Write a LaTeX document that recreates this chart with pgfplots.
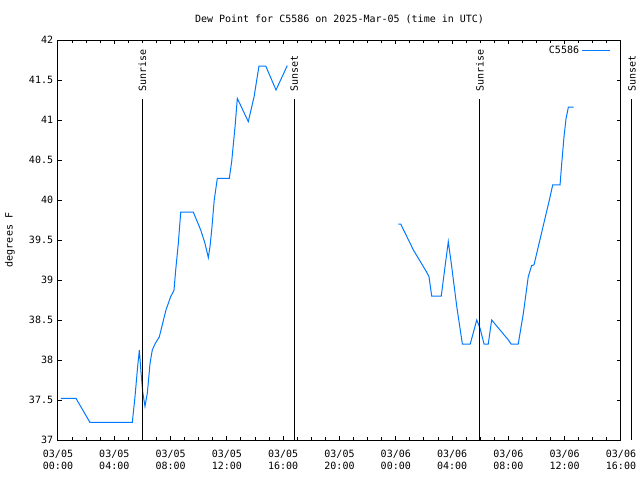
\documentclass[border=0pt]{standalone}
\usepackage{fontspec}
\setmainfont{DejaVu Sans Mono}
\usepackage{pgfplots}
\pgfplotsset{compat=1.18}
\definecolor{dpblue}{RGB}{0,120,255}
\begin{document}
\fontsize{7.5}{10.5}\selectfont
\begin{tikzpicture}
\begin{axis}[
  at={(0,0)}, anchor=south west,
  scale only axis, width=422.25pt, height=300pt,
  xmin=0, xmax=40, ymin=37, ymax=42,
  clip=false,
  axis line style={line width=0.75pt},
  every tick/.style={black, line width=0.75pt},
  major tick length=3pt, minor tick length=2pt,
  tick align=inside,
  xtick={0,4,...,40}, minor x tick num=3,
  xticklabels={{03/05\\00:00},{03/05\\04:00},{03/05\\08:00},{03/05\\12:00},{03/05\\16:00},{03/05\\20:00},{03/06\\00:00},{03/06\\04:00},{03/06\\08:00},{03/06\\12:00},{03/06\\16:00}},
  xticklabel style={align=center, font=\fontsize{7.5}{9.5}\selectfont, yshift=-4.5pt},
  ytick={37,37.5,...,42},
  yticklabel style={font=\fontsize{7.5}{10.5}\selectfont, xshift=-1pt},
  /pgf/number format/assume math mode=true,
  title={Dew Point for C5586 on 2025-Mar-05 (time in UTC)},
  title style={at={(0.5,1)}, anchor=base, yshift=7pt, font=\fontsize{7.5}{10.5}\selectfont},
  ylabel={degrees F},
  ylabel style={at={(axis description cs:-0.0853,0.5)}, anchor=center, font=\fontsize{7.5}{10.5}\selectfont},
  unbounded coords=jump,
  legend plot pos=right,
  legend style={at={(1,1)}, anchor=north east, draw=none, fill=none, font=\fontsize{7.5}{10.5}\selectfont, xshift=-4.5pt, yshift=-0.5pt},
  legend image code/.code={\draw[#1] (0pt,0pt) -- (21pt,0pt);},
]
\addplot[dpblue, line width=0.75pt] coordinates {
(0.21,37.52) (1.28,37.52) (2.27,37.22) (5.28,37.22) (5.47,37.54) (5.66,37.92) (5.78,38.125) (5.90,37.84) (6.02,37.6) (6.18,37.42) (6.35,37.59) (6.54,37.96) (6.70,38.125) (6.89,38.2) (7.20,38.29) (7.41,38.44) (7.67,38.625) (8.0,38.79) (8.24,38.87) (8.36,39.12) (8.55,39.46) (8.72,39.85) (9.61,39.85) (10.14,39.625) (10.44,39.46) (10.68,39.28) (10.80,39.42) (10.92,39.625) (11.1,40.0) (11.32,40.27) (12.17,40.27) (12.34,40.48) (12.58,40.92) (12.74,41.27) (13.52,40.98) (13.93,41.29) (14.28,41.675) (14.76,41.675) (15.49,41.375) (16.29,41.68)
(20,nan)
(24.18,39.7) (24.35,39.7) (25.25,39.375) (26.19,39.10) (26.36,39.04) (26.55,38.80) (27.23,38.80) (27.50,39.17) (27.73,39.48) (27.97,39.17) (28.33,38.67) (28.73,38.2) (29.29,38.2) (29.75,38.5) (29.98,38.4) (30.27,38.2) (30.57,38.2) (30.81,38.5) (32.0,38.25) (32.19,38.2) (32.70,38.2) (33.06,38.58) (33.41,39.04) (33.65,39.18) (33.82,39.19) (34.91,40.0) (35.15,40.19) (35.67,40.19) (35.79,40.46) (35.95,40.79) (36.09,41.01) (36.26,41.16) (36.64,41.16)
};
\addlegendentry{C5586}
\addplot[black, line width=0.75pt, forget plot] coordinates {(5.99,37) (5.99,41.2625)};
\addplot[black, line width=0.75pt, forget plot] coordinates {(16.79,37) (16.79,41.2625)};
\addplot[black, line width=0.75pt, forget plot] coordinates {(29.98,37) (29.98,41.2625)};
\addplot[black, line width=0.75pt, forget plot] coordinates {(40.78,37) (40.78,41.2625)};
\node[rotate=90, anchor=west, inner sep=0pt] at (axis cs:5.99,41.35) {Sunrise};
\node[rotate=90, anchor=west, inner sep=0pt] at (axis cs:16.79,41.35) {Sunset};
\node[rotate=90, anchor=west, inner sep=0pt] at (axis cs:29.98,41.35) {Sunrise};
\node[rotate=90, anchor=west, inner sep=0pt] at (axis cs:40.78,41.35) {Sunset};
\end{axis}
\pgfresetboundingbox
\path[use as bounding box] (-43.5pt,-30pt) rectangle (436.5pt,330pt);
\end{tikzpicture}
\end{document}
